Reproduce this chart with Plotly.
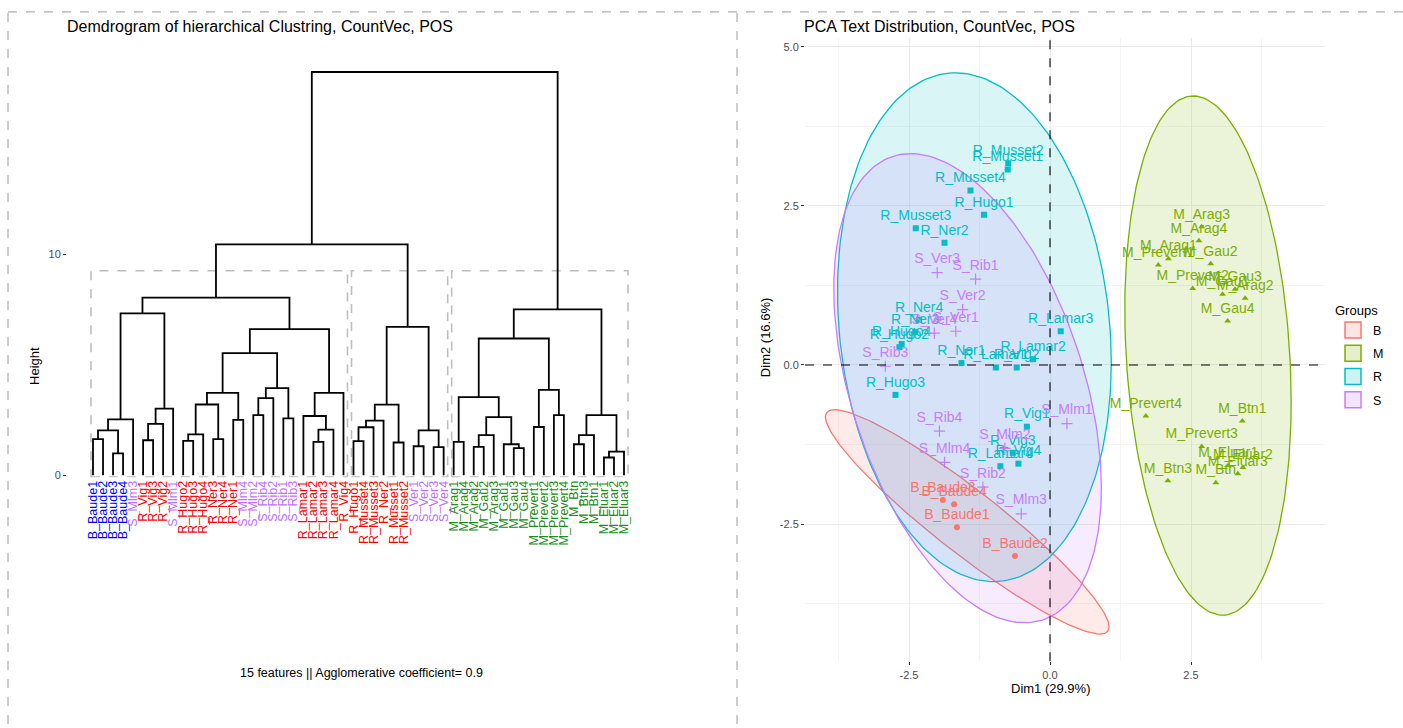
import numpy as np
import plotly.graph_objects as go

W, H = 1403, 728
FONT = "Liberation Sans, Arial, Helvetica, sans-serif"

# ---------------- Dendrogram data ----------------
leaf_labels = [
    "B_Baude1", "B_Baude2", "B_Baude3", "B_Baude4", "S_Mlm3", "R_Vig1", "R_Vig3", "R_Vig2", "S_Mlm1",
    "R_Hugo2", "R_Hugo3", "R_Hugo4", "R_Ner3", "R_Ner4", "R_Ner1", "S_Mlm4", "S_Mlm2", "S_Rib4",
    "S_Rib2", "S_Rib1", "S_Rib3", "R_Lamar1", "R_Lamar2", "R_Lamar3", "R_Lamar4", "R_Vig4",
    "R_Hugo1", "R_Musset4", "R_Musset3", "R_Ner2", "R_Musset1", "R_Musset2",
    "S_Ver1", "S_Ver2", "S_Ver3", "S_Ver4",
    "M_Arag1", "M_Arag4", "M_Arag2", "M_Gau2", "M_Arag3", "M_Gau1", "M_Gau3", "M_Gau4",
    "M_Prevert1", "M_Prevert2", "M_Prevert3", "M_Prevert4", "M_Btn", "M_Btn3", "M_Btn1",
    "M_Eluar1", "M_Eluar2", "M_Eluar3",
]

# merges: [left, right, height]; str = leaf, int = index of an earlier merge
merges = [
    ["B_Baude1", "B_Baude2", 1.64],   # 0
    ["B_Baude3", "B_Baude4", 1.00],   # 1
    [0, 1, 2.04],                     # 2
    [2, "S_Mlm3", 2.54],              # 3
    ["R_Vig1", "R_Vig3", 1.59],       # 4
    [4, "R_Vig2", 2.33],              # 5
    [5, "S_Mlm1", 3.02],              # 6
    [3, 6, 7.34],                     # 7
    ["R_Hugo2", "R_Hugo3", 1.56],     # 8
    [8, "R_Hugo4", 1.86],             # 9
    ["R_Ner3", "R_Ner4", 1.64],       # 10
    [9, 10, 3.21],                    # 11
    ["R_Ner1", "S_Mlm4", 2.51],       # 12
    [11, 12, 3.74],                   # 13
    ["S_Mlm2", "S_Rib4", 2.73],       # 14
    [14, "S_Rib2", 3.50],             # 15
    ["S_Rib1", "S_Rib3", 2.58],       # 16
    [15, 16, 3.95],                   # 17
    [13, 17, 5.54],                   # 18
    ["R_Lamar2", "R_Lamar3", 1.52],   # 19
    [19, "R_Lamar4", 2.07],           # 20
    ["R_Lamar1", 20, 2.69],           # 21
    [21, "R_Vig4", 3.74],             # 22
    [18, 22, 6.62],                   # 23
    [7, 23, 8.05],                    # 24
    ["R_Hugo1", "R_Musset4", 1.55],   # 25
    [25, "R_Musset3", 2.18],          # 26
    [26, "R_Ner2", 2.48],             # 27
    ["R_Musset1", "R_Musset2", 1.49], # 28
    [27, 28, 3.20],                   # 29
    ["S_Ver1", "S_Ver2", 1.32],       # 30
    ["S_Ver3", "S_Ver4", 1.28],       # 31
    [30, 31, 2.04],                   # 32
    [29, 32, 6.73],                   # 33
    [24, 33, 10.46],                  # 34
    ["M_Arag1", "M_Arag4", 1.52],     # 35
    ["M_Arag2", "M_Gau2", 1.29],      # 36
    [36, "M_Arag3", 1.82],            # 37
    ["M_Gau3", "M_Gau4", 1.23],       # 38
    ["M_Gau1", 38, 1.41],             # 39
    [37, 39, 2.64],                   # 40
    [35, 40, 3.54],                   # 41
    ["M_Prevert1", "M_Prevert2", 2.19],  # 42
    ["M_Prevert3", "M_Prevert4", 2.73],  # 43
    [42, 43, 3.87],                   # 44
    [41, 44, 6.20],                   # 45
    ["M_Btn", "M_Btn3", 1.41],        # 46
    [46, "M_Btn1", 1.82],             # 47
    ["M_Eluar1", "M_Eluar2", 0.81],   # 48
    [48, "M_Eluar3", 1.08],           # 49
    [47, 49, 2.73],                   # 50
    [45, 50, 7.52],                   # 51
    [34, 51, 18.27],                  # 52
]

cluster_ranges = [("B_Baude1", "R_Vig4"), ("R_Hugo1", "S_Ver4"), ("M_Arag1", "M_Eluar3")]
rect_height = 9.27
label_colors = {"B": "#0000FF", "R": "#FF0000", "S": "#BF6FFF", "M": "#228B22"}

dend_title = "Demdrogram of hierarchical Clustring, CountVec, POS"
dend_caption = "15 features || Agglomerative coefficient= 0.9"

# ---------------- PCA data ----------------
pca_groups = ["B", "M", "R", "S"]
group_colors = {"B": "#F8766D", "M": "#7CAE00", "R": "#00BFC4", "S": "#C77CFF"}
group_symbols = {"B": "circle", "M": "triangle-up", "R": "square", "S": "cross-thin-open"}

B_names = ["B_Baude1", "B_Baude2", "B_Baude3", "B_Baude4"]
B_dim1 = [-1.65, -0.62, -1.90, -1.70]
B_dim2 = [-2.55, -3.00, -2.12, -2.19]

M_names = ["M_Arag1", "M_Arag2", "M_Arag3", "M_Arag4", "M_Gau1", "M_Gau2", "M_Gau3", "M_Gau4",
           "M_Prevert1", "M_Prevert2", "M_Prevert3", "M_Prevert4", "M_Btn", "M_Btn1", "M_Btn3",
           "M_Eluar1", "M_Eluar2", "M_Eluar3"]
M_dim1 = [2.10, 3.46, 2.69, 2.64, 3.06, 2.85, 3.28, 3.15, 1.92, 2.53, 2.69, 1.70, 2.94, 3.41, 2.09,
          3.16, 3.42, 3.33]
M_dim2 = [1.67, 1.05, 2.17, 1.95, 1.11, 1.59, 1.19, 0.69, 1.57, 1.20, -1.28, -0.80, -1.85, -0.88, -1.82,
          -1.58, -1.61, -1.71]

R_names = ["R_Vig1", "R_Vig2", "R_Vig3", "R_Vig4", "R_Hugo1", "R_Hugo2", "R_Hugo3", "R_Hugo4",
           "R_Ner1", "R_Ner2", "R_Ner3", "R_Ner4", "R_Lamar1", "R_Lamar2", "R_Lamar3", "R_Lamar4",
           "R_Musset1", "R_Musset2", "R_Musset3", "R_Musset4"]
R_dim1 = [-0.41, -0.59, -0.66, -0.56, -1.17, -2.67, -2.74, -2.63, -1.57, -1.87, -2.39, -2.32,
          -0.96, -0.30, 0.19, -0.88, -0.75, -0.74, -2.38, -1.41]
R_dim2 = [-0.97, -0.04, -1.38, -1.55, 2.36, 0.28, -0.47, 0.33, 0.03, 1.92, 0.52, 0.71,
          -0.04, 0.09, 0.53, -1.59, 3.07, 3.17, 2.15, 2.74]

S_names = ["S_Mlm1", "S_Mlm2", "S_Mlm3", "S_Mlm4", "S_Rib1", "S_Rib2", "S_Rib3", "S_Rib4",
           "S_Ver1", "S_Ver2", "S_Ver3", "S_Ver4"]
S_dim1 = [0.30, -0.80, -0.51, -1.87, -1.32, -1.19, -2.92, -1.96, -1.67, -1.55, -2.00, -2.05]
S_dim2 = [-0.92, -1.31, -2.34, -1.53, 1.35, -1.92, -0.02, -1.04, 0.53, 0.87, 1.45, 0.50]

pca_data = {
    "B": (B_names, B_dim1, B_dim2),
    "M": (M_names, M_dim1, M_dim2),
    "R": (R_names, R_dim1, R_dim2),
    "S": (S_names, S_dim1, S_dim2),
}
pca_title = "PCA Text Distribution, CountVec, POS"
dim1_label = "Dim1 (29.9%)"
dim2_label = "Dim2 (16.6%)"


# ---------------- helpers ----------------
def pxx(x):
    return x / W


def pxy(y):
    return 1 - y / H


def hex_rgba(hx, a):
    hx = hx.lstrip("#")
    r, g, b = int(hx[0:2], 16), int(hx[2:4], 16), int(hx[4:6], 16)
    return f"rgba({r},{g},{b},{a})"


# ---------------- dendrogram geometry ----------------
order = []


def walk(ref):
    if isinstance(ref, str):
        order.append(ref)
        return
    left, right, _ = merges[ref]
    walk(left)
    walk(right)


walk(len(merges) - 1)
leaf_x = {lab: i + 1 for i, lab in enumerate(order)}

pos = []
seg_x, seg_y = [], []


def child(ref):
    return (leaf_x[ref], 0.0) if isinstance(ref, str) else pos[ref]


for left, right, h in merges:
    xl, hl = child(left)
    xr, hr = child(right)
    seg_x += [xl, xl, xr, xr, None]
    seg_y += [hl, h, h, hr, None]
    pos.append(((xl + xr) / 2, h))

# axis ranges (pixel-calibrated)
n_leaves = len(order)
leaf_px0, leaf_px1 = 93, 624
dx = (leaf_px1 - leaf_px0) / (n_leaves - 1)
dend_left, dend_right = 67, 650
xr0 = 1 - (leaf_px0 - dend_left) / dx
xr1 = n_leaves + (dend_right - leaf_px1) / dx

dend_top, dend_bot = 40, 480
ppu = (478 - 256) / 10.0
yr1 = (478 - dend_top) / ppu
yr0 = (478 - dend_bot) / ppu

pca_left, pca_right, pca_top, pca_bot = 805, 1325, 38, 665
xppu, yppu = 56.4, 64.0
px_r0 = (pca_left - 1050) / xppu
px_r1 = (pca_right - 1050) / xppu
py_r1 = (367 - pca_top) / yppu
py_r0 = (367 - pca_bot) / yppu

fig = go.Figure()

fig.add_trace(go.Scatter(x=seg_x, y=seg_y, mode="lines", line=dict(color="black", width=1.8),
                         showlegend=False, hoverinfo="skip", xaxis="x", yaxis="y"))

shapes = []
for a, b in cluster_ranges:
    x0 = leaf_x[a] - 0.2
    x1 = leaf_x[b] + 0.4
    shapes.append(dict(type="rect", xref="x", yref="y", x0=x0, x1=x1, y0=yr0 + 0.01, y1=rect_height,
                       line=dict(color="#BEBEBE", width=1.6, dash="dash"), fillcolor="rgba(0,0,0,0)",
                       layer="below"))

ticktext = [f'<span style="color:{label_colors[lab[0]]}">{lab}</span>' for lab in order]


# ---------------- PCA ----------------
def qf2(p, d):
    # quantile of F(2, d)
    return (d / 2.0) * ((1 - p) ** (-2.0 / d) - 1)


t = np.linspace(0, 2 * np.pi, 200)
for g in pca_groups:
    names, d1, d2 = pca_data[g]
    pts = np.column_stack([d1, d2])
    n = len(pts)
    c = pts.mean(axis=0)
    cov = np.cov(pts.T)
    L = np.linalg.cholesky(cov)
    r = np.sqrt(2 * qf2(0.95, n - 1))
    circ = np.vstack([np.cos(t), np.sin(t)])
    ell = c[:, None] + r * (L @ circ)
    fig.add_trace(go.Scatter(x=ell[0], y=ell[1], mode="lines", fill="toself",
                             fillcolor=hex_rgba(group_colors[g], 0.15),
                             line=dict(color=group_colors[g], width=1.3),
                             name=g, legendgroup=g, showlegend=False, hoverinfo="skip",
                             xaxis="x2", yaxis="y2"))

for g in pca_groups:
    names, d1, d2 = pca_data[g]
    sym = group_symbols[g]
    fig.add_trace(go.Scatter(
        x=d1, y=d2, mode="markers+text", text=names, textposition="top center",
        textfont=dict(color=group_colors[g], size=14, family=FONT),
        marker=dict(symbol=sym, color=group_colors[g], size=8 if g == "S" else 6,
                    line=dict(color=group_colors[g], width=1.2 if g == "S" else 0)),
        name=g, legendgroup=g, showlegend=False, hoverinfo="text", xaxis="x2", yaxis="y2"))

# legend keys (boxes like ggplot keys)
for g in pca_groups:
    fig.add_trace(go.Scatter(
        x=[None], y=[None], mode="markers", name=g, legendgroup=g, showlegend=True,
        marker=dict(symbol="square", size=17, color=hex_rgba(group_colors[g], 0.2),
                    line=dict(color=group_colors[g], width=1.5)),
        xaxis="x2", yaxis="y2"))

# zero lines
shapes.append(dict(type="line", xref="x2", yref="y2 domain", x0=0, x1=0, y0=0, y1=1,
                   line=dict(color="black", width=1.1, dash="dash")))
shapes.append(dict(type="line", xref="x2 domain", yref="y2", x0=0, x1=1, y0=0, y1=0,
                   line=dict(color="black", width=1.1, dash="dash")))

# outer dashed borders
border = dict(color="#9A9A9A", width=1, dash="dash")
shapes.append(dict(type="line", xref="paper", yref="paper", x0=pxx(8), x1=1, y0=pxy(12), y1=pxy(12), line=border))
shapes.append(dict(type="line", xref="paper", yref="paper", x0=pxx(8), x1=pxx(8), y0=0, y1=pxy(12), line=border))
shapes.append(dict(type="line", xref="paper", yref="paper", x0=pxx(737), x1=pxx(737), y0=0, y1=pxy(12), line=border))

annotations = [
    dict(text=dend_title, x=pxx(65), y=pxy(27), xref="paper", yref="paper", xanchor="left",
         yanchor="middle", showarrow=False, font=dict(size=16, color="black", family=FONT)),
    dict(text=dend_caption, x=pxx(361), y=pxy(677), xref="paper", yref="paper", xanchor="center",
         yanchor="middle", showarrow=False, font=dict(size=12.5, color="black", family=FONT)),
    dict(text="Height", x=pxx(35), y=pxy(368), xref="paper", yref="paper", xanchor="center",
         yanchor="middle", textangle=-90, showarrow=False, font=dict(size=13, color="black", family=FONT)),
    dict(text=pca_title, x=pxx(802), y=pxy(27), xref="paper", yref="paper", xanchor="left",
         yanchor="middle", showarrow=False, font=dict(size=16, color="black", family=FONT)),
    dict(text=dim1_label, x=pxx(1050), y=pxy(692), xref="paper", yref="paper", xanchor="center",
         yanchor="middle", showarrow=False, font=dict(size=13, color="black", family=FONT)),
    dict(text=dim2_label, x=pxx(765), y=pxy(340), xref="paper", yref="paper", xanchor="center",
         yanchor="middle", textangle=-90, showarrow=False, font=dict(size=13, color="black", family=FONT)),
]

fig.update_layout(
    width=W, height=H, margin=dict(l=0, r=0, t=0, b=0),
    paper_bgcolor="white", plot_bgcolor="white",
    font=dict(family=FONT),
    xaxis=dict(domain=[pxx(dend_left), pxx(dend_right)], range=[xr0, xr1],
               tickmode="array", tickvals=[leaf_x[l] for l in order], ticktext=ticktext,
               tickangle=-90, tickfont=dict(size=12.5, family=FONT), ticks="",
               showgrid=False, zeroline=False, showline=False, anchor="y", fixedrange=True),
    yaxis=dict(domain=[pxy(dend_bot), pxy(dend_top)], range=[yr0, yr1],
               tickvals=[0, 10], ticktext=["0", "10"], ticks="outside", ticklen=3,
               tickcolor="#333333", tickfont=dict(size=11, color="#4D4D4D", family=FONT),
               showgrid=False, zeroline=False, showline=False, anchor="x"),
    xaxis2=dict(domain=[pxx(pca_left), pxx(pca_right)], range=[px_r0, px_r1],
                tickvals=[-2.5, 0, 2.5], ticktext=["-2.5", "0.0", "2.5"],
                ticks="outside", ticklen=3, tickcolor="#333333",
                tickfont=dict(size=11, color="#4D4D4D", family=FONT),
                showgrid=True, gridcolor="#EBEBEB", gridwidth=1,
                minor=dict(tickvals=[-3.75, -1.25, 1.25, 3.75], showgrid=True, gridcolor="#F4F4F4", ticks=""),
                zeroline=False, showline=False, anchor="y2"),
    yaxis2=dict(domain=[pxy(pca_bot), pxy(pca_top)], range=[py_r0, py_r1],
                tickvals=[-2.5, 0, 2.5, 5.0], ticktext=["-2.5", "0.0", "2.5", "5.0"],
                ticks="outside", ticklen=3, tickcolor="#333333",
                tickfont=dict(size=11, color="#4D4D4D", family=FONT),
                showgrid=True, gridcolor="#EBEBEB", gridwidth=1,
                minor=dict(tickvals=[-3.75, -1.25, 1.25, 3.75], showgrid=True, gridcolor="#F4F4F4", ticks=""),
                zeroline=False, showline=False, anchor="x2"),
    legend=dict(title=dict(text="Groups", font=dict(size=13, color="black")),
                x=pxx(1333), y=pxy(300), xanchor="left", yanchor="top",
                font=dict(size=12.5, color="black"), bgcolor="rgba(0,0,0,0)",
                itemwidth=30, tracegroupgap=4),
    shapes=shapes, annotations=annotations,
)

fig.write_html("out.html", config={"displayModeBar": False},
               post_script="document.body.style.margin='0';document.body.style.padding='0';")
